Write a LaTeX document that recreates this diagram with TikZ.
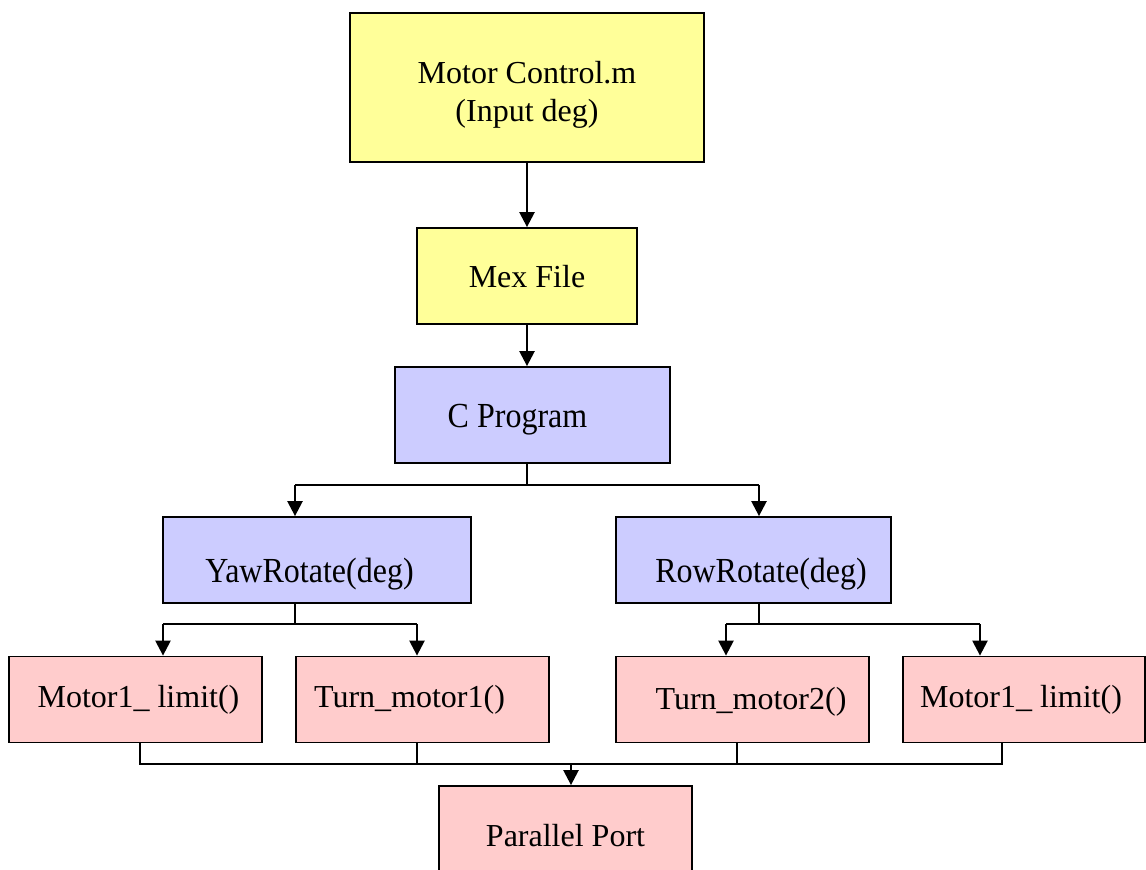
\documentclass[tikz,border=0pt]{standalone}
\usepackage{fontspec}
\setmainfont{Liberation Serif}
\usetikzlibrary{positioning,arrows.meta}
\definecolor{boxyellow}{HTML}{FFFF99}
\definecolor{boxblue}{HTML}{CCCCFF}
\definecolor{boxpink}{HTML}{FFCCCC}
\newcommand{\TallText}[1]{\scalebox{1}[1.1]{#1}}
\tikzstyle{BoxNode}=[draw=black, line width=1.8pt, align=center, inner sep=0pt, text depth=0pt, font=\fontsize{32}{38.4}\selectfont]
\tikzstyle{YellowNode}=[BoxNode, fill=boxyellow]
\tikzstyle{BlueNode}=[BoxNode, fill=boxblue, minimum height=86pt]
\tikzstyle{PinkNode}=[BoxNode, fill=boxpink, minimum width=253pt, minimum height=86pt]
\tikzstyle{ArrowLine}=[line width=2.4pt, -{Triangle[width=15pt,length=15pt]}]
\tikzstyle{BusLine}=[line width=1.6pt]

\begin{document}
\begin{tikzpicture}[x=1pt, y=-1pt]
      \useasboundingbox (0,0) rectangle (1146,870);
      \node[YellowNode, minimum width=354pt, minimum height=149pt, text height=68.4pt] (MC) at (527,87.5) {Motor Control.m\\(Input deg)};
      \node[YellowNode, minimum width=220pt, minimum height=96pt, text height=22pt] (Mex) at (527,276) {Mex File};
      \node[BlueNode, minimum width=275pt, minimum height=96pt, text height=24pt] (CP) at (532.5,415) {\hspace*{-30pt}\TallText{C Program}};
      \node[BlueNode, minimum width=308pt, text height=44pt] (Yaw) at (317,560) {\hspace*{-15pt}\TallText{YawRotate(deg)}};
      \node[BlueNode, minimum width=275pt, text height=44pt] (Row) at (753.5,560) {\hspace*{15pt}\TallText{RowRotate(deg)}};
      \node[PinkNode, text height=15pt] (ML1) at (135.5,699.5) {\hspace*{6pt}Motor1\_ limit()};
      \node[PinkNode, text height=15pt] (TM1) at (422.5,699.5) {\hspace*{-26pt}Turn\_motor1()};
      \node[PinkNode, text height=19pt] (TM2) at (742.5,699.5) {\hspace*{17pt}Turn\_motor2()};
      \node[PinkNode, minimum width=242pt, text height=16pt] (ML2) at (1024,699.5) {\hspace*{-6pt}Motor1\_ limit()};
      \node[PinkNode, text height=34pt] (PP) at (565.5,829) {Parallel Port};
      % bus corners
      \coordinate (cpbus) at (527,485);
      \coordinate (cpl) at (295,485);
      \coordinate (cpr) at (759,485);
      \coordinate (yawbus) at (295,624);
      \coordinate (yl) at (163,624);
      \coordinate (yr) at (417,624);
      \coordinate (rowbus) at (759,624);
      \coordinate (rl) at (726,624);
      \coordinate (rr) at (980,624);
      \coordinate (bl) at (140,764);
      \coordinate (b2) at (417,764);
      \coordinate (b3) at (737,764);
      \coordinate (br) at (1002,764);
      \coordinate (pin) at (571,764);
      \draw[ArrowLine] (MC) -- (Mex);
      \draw[ArrowLine] (Mex.south) -- (Mex.south |- CP.north);
      \draw[BusLine] (CP.south -| cpbus) -- (cpbus);
      \draw[BusLine] (cpl) -- (cpr);
      \draw[ArrowLine] (cpl) -- (cpl |- Yaw.north);
      \draw[ArrowLine] (cpr) -- (cpr |- Row.north);
      \draw[BusLine] (Yaw.south -| yawbus) -- (yawbus);
      \draw[BusLine] (yl) -- (yr);
      \draw[ArrowLine] (yl) -- (yl |- ML1.north);
      \draw[ArrowLine] (yr) -- (yr |- TM1.north);
      \draw[BusLine] (Row.south -| rowbus) -- (rowbus);
      \draw[BusLine] (rl) -- (rr);
      \draw[ArrowLine] (rl) -- (rl |- TM2.north);
      \draw[ArrowLine] (rr) -- (rr |- ML2.north);
      \draw[BusLine] (ML1.south -| bl) -- (bl) -- (br) -- (ML2.south -| br);
      \draw[BusLine] (TM1.south -| b2) -- (b2);
      \draw[BusLine] (TM2.south -| b3) -- (b3);
      \draw[ArrowLine] (pin) -- (pin |- PP.north);
    \end{tikzpicture}
\end{document}
